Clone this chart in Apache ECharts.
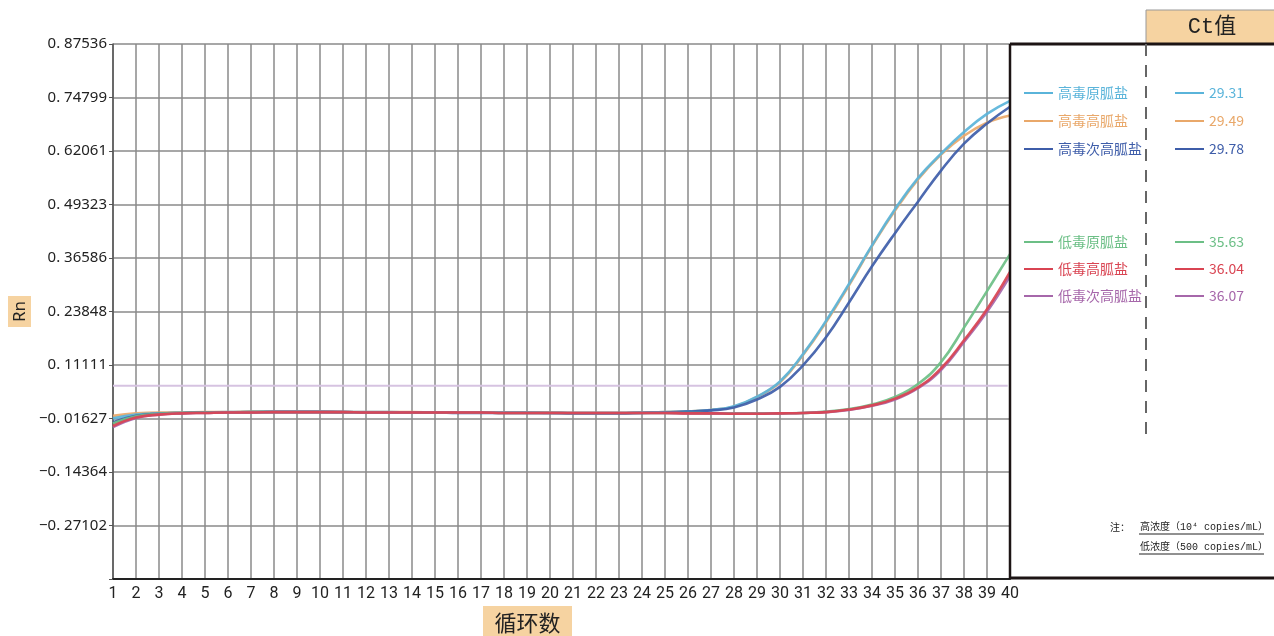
<!DOCTYPE html>
<html>
<head>
<meta charset="utf-8">
<script src="https://cdn.jsdelivr.net/npm/echarts@6/dist/echarts.min.js"></script>
<style>
html,body{margin:0;padding:0;background:#fff;}
#main{width:1274px;height:636px;}
</style>
</head>
<body>
<div id="main"></div>
<script>
// ---------------- data ----------------
var cycles = [1,2,3,4,5,6,7,8,9,10,11,12,13,14,15,16,17,18,19,20,21,22,23,24,25,26,27,28,29,30,31,32,33,34,35,36,37,38,39,40];

var seriesNames = ['高毒原胍盐','高毒高胍盐','高毒次高胍盐','低毒原胍盐','低毒高胍盐','低毒次高胍盐'];
var ctValues = ['29.31','29.49','29.78','35.63','36.04','36.07'];

var highOriginal = [-0.016,-0.007,-0.004,-0.003,-0.002,-0.001,-0.001,0.000,0.000,0.000,-0.001,-0.001,-0.001,-0.002,-0.002,-0.002,-0.002,-0.002,-0.002,-0.003,-0.003,-0.003,-0.003,-0.002,-0.001,0.001,0.004,0.013,0.036,0.072,0.137,0.216,0.304,0.396,0.482,0.556,0.614,0.666,0.709,0.740];
var highHigh = [-0.010,-0.004,-0.002,-0.002,-0.001,-0.001,0.000,0.000,0.000,0.000,-0.001,-0.001,-0.001,-0.001,-0.002,-0.002,-0.002,-0.002,-0.002,-0.002,-0.003,-0.003,-0.003,-0.002,-0.001,0.001,0.004,0.012,0.035,0.070,0.135,0.213,0.301,0.394,0.479,0.553,0.612,0.657,0.688,0.705];
var highSub = [-0.025,-0.010,-0.005,-0.003,-0.002,-0.002,-0.001,-0.001,-0.001,-0.001,-0.001,-0.002,-0.002,-0.002,-0.002,-0.003,-0.003,-0.003,-0.003,-0.003,-0.004,-0.004,-0.004,-0.003,-0.002,0.000,0.003,0.010,0.029,0.059,0.110,0.177,0.260,0.346,0.425,0.500,0.574,0.638,0.686,0.726];
var lowOriginal = [-0.028,-0.011,-0.005,-0.003,-0.002,-0.002,-0.001,-0.001,-0.001,-0.001,-0.001,-0.002,-0.002,-0.002,-0.002,-0.002,-0.002,-0.003,-0.003,-0.003,-0.003,-0.003,-0.003,-0.003,-0.003,-0.003,-0.004,-0.004,-0.004,-0.004,-0.003,0.000,0.006,0.017,0.035,0.066,0.118,0.200,0.287,0.375];
var lowHigh = [-0.034,-0.014,-0.007,-0.004,-0.003,-0.002,-0.002,-0.001,-0.001,-0.001,-0.001,-0.002,-0.002,-0.002,-0.002,-0.002,-0.002,-0.003,-0.003,-0.003,-0.003,-0.003,-0.003,-0.003,-0.003,-0.004,-0.004,-0.005,-0.005,-0.004,-0.003,-0.001,0.005,0.015,0.031,0.058,0.103,0.170,0.244,0.333];
var lowSub = [-0.037,-0.015,-0.007,-0.004,-0.003,-0.002,-0.002,-0.001,-0.001,-0.001,-0.001,-0.002,-0.002,-0.002,-0.002,-0.002,-0.002,-0.003,-0.003,-0.003,-0.003,-0.003,-0.003,-0.003,-0.003,-0.004,-0.004,-0.005,-0.005,-0.004,-0.003,-0.001,0.004,0.014,0.029,0.056,0.099,0.166,0.238,0.323];

var thresholdValue = 0.062;
var thresholdRange = [1, 39.9];

var yMin = -0.39839, yMax = 0.87536, yInterval = 0.127375;
var yTickLabels = ['', '\u22120. 27102', '\u22120. 14364', '\u22120. 01627', '0. 11111', '0. 23848', '0. 36586', '0. 49323', '0. 62061', '0. 74799', '0. 87536'];

var colors = ['#5AB4DA','#E9A86A','#3E5DA9','#6CBF86','#D94452','#A667AA'];
var thresholdColor = '#D6C3E1';

// ---------------- build ----------------
var allValues = [highOriginal, highHigh, highSub, lowOriginal, lowHigh, lowSub];
function pairs(vals){ return cycles.map(function(c,i){ return [c, vals[i]]; }); }

var drawOrder = [1,0,2,3,5,4];
var series = [{
  name: 'threshold', type: 'line', silent: true, showSymbol: false,
  data: [[thresholdRange[0], thresholdValue],[thresholdRange[1], thresholdValue]],
  lineStyle: {color: thresholdColor, width: 2}, z: 2
}];
drawOrder.forEach(function(i, k){
  series.push({
    name: seriesNames[i], type: 'line', smooth: 0.45, showSymbol: false,
    data: pairs(allValues[i]),
    itemStyle: {color: colors[i]},
    lineStyle: {color: colors[i], width: 2.6, opacity: 0.92},
    z: 3 + k
  });
});

function legendData(idxs){
  return idxs.map(function(i){ return {name: seriesNames[i], textStyle: {color: colors[i]}}; });
}
var legendCommon = {
  orient: 'vertical', icon: 'rect', itemWidth: 29, itemHeight: 2, padding: 0,
  selectedMode: false,
  textStyle: {fontSize: 14, lineHeight: 16, fontFamily: 'Noto Sans CJK SC'}
};
function mk(extra){ var o = {}; for (var k in legendCommon) o[k] = legendCommon[k]; for (var k2 in extra) o[k2] = extra[k2]; return o; }
function ctFormatter(name){ return ctValues[seriesNames.indexOf(name)]; }

var CJK = 'Noto Sans CJK SC';
var NOTE = 'Liberation Mono, Noto Sans CJK SC, monospace';
var boxColor = '#F6D3A1';

var option = {
  animation: false,
  backgroundColor: '#fff',
  grid: {left: 113, right: 264, top: 44, bottom: 57, containLabel: false},
  xAxis: {
    type: 'value', min: 1, max: 40, interval: 1,
    axisLine: {show: true, onZero: false, lineStyle: {color: '#222', width: 2}},
    axisTick: {show: false},
    axisLabel: {fontSize: 16, color: '#222', margin: 7, fontFamily: 'Liberation Sans Narrow, Roboto, sans-serif'},
    splitLine: {show: true, lineStyle: {color: '#8a8a8a', width: 1.5}}
  },
  yAxis: {
    type: 'value', min: yMin, max: yMax, interval: yInterval,
    axisLine: {show: true, onZero: false, lineStyle: {color: '#555', width: 1.5}},
    axisTick: {show: true, length: 4, lineStyle: {color: '#555'}},
    axisLabel: {fontSize: 15, color: '#222', margin: 6, fontFamily: 'Noto Sans',
      formatter: function(v){ var idx = Math.round((v - yMin) / yInterval); return yTickLabels[idx] || ''; }},
    splitLine: {show: true, lineStyle: {color: '#8a8a8a', width: 1.5}}
  },
  legend: [
    mk({left: 1024, top: 85, itemGap: 12, data: legendData([0,1,2])}),
    mk({left: 1024, top: 234, itemGap: 11, data: legendData([3,4,5])}),
    mk({left: 1175, top: 85, itemGap: 12, data: legendData([0,1,2]), formatter: ctFormatter}),
    mk({left: 1175, top: 234, itemGap: 11, data: legendData([3,4,5]), formatter: ctFormatter})
  ],
  series: series,
  graphic: [
    {type: 'rect', shape: {x: 1146, y: 10, width: 132, height: 34}, style: {fill: boxColor, stroke: '#999', lineWidth: 1}, z: 10},
    {type: 'text', x: 1212, y: 27, style: {text: 'Ct值', fontSize: 22, fontFamily: 'Liberation Mono, Noto Sans CJK SC', fill: '#222', textAlign: 'center', textVerticalAlign: 'middle'}, z: 11},
    {type: 'line', shape: {x1: 1010, y1: 44, x2: 1274, y2: 44}, style: {stroke: '#1c1414', lineWidth: 3}, z: 12},
    {type: 'line', shape: {x1: 1010, y1: 44, x2: 1010, y2: 579}, style: {stroke: '#1c1414', lineWidth: 2.5}, z: 12},
    {type: 'line', shape: {x1: 1010, y1: 578, x2: 1274, y2: 578}, style: {stroke: '#1c1414', lineWidth: 3}, z: 12},
    {type: 'line', shape: {x1: 1146, y1: 44, x2: 1146, y2: 440}, style: {stroke: '#666', lineWidth: 2, lineDash: [12, 9]}, z: 12},
    {type: 'rect', shape: {x: 8, y: 296, width: 23, height: 31}, style: {fill: boxColor}, z: 10},
    {type: 'text', x: 20, y: 311.5, rotation: Math.PI / 2, style: {text: 'Rn', fontSize: 17, fontFamily: 'Noto Sans', fill: '#222', textAlign: 'center', textVerticalAlign: 'middle'}, z: 11},
    {type: 'rect', shape: {x: 483, y: 606, width: 89, height: 32}, style: {fill: boxColor}, z: 10},
    {type: 'text', x: 527.5, y: 623, style: {text: '循环数', fontSize: 22, fontFamily: CJK, fill: '#222', textAlign: 'center', textVerticalAlign: 'middle'}, z: 11},
    {type: 'text', x: 1110, y: 527, style: {text: '注：', fontSize: 10, fontFamily: CJK, fill: '#222', textVerticalAlign: 'middle'}, z: 11},
    {type: 'text', x: 1140, y: 527, style: {text: '高浓度（10⁴ copies/mL）', fontSize: 10, fontFamily: NOTE, fill: '#222', textVerticalAlign: 'middle'}, z: 11},
    {type: 'line', shape: {x1: 1139, y1: 534, x2: 1264, y2: 534}, style: {stroke: '#222', lineWidth: 1}, z: 11},
    {type: 'text', x: 1140, y: 547, style: {text: '低浓度（500 copies/mL）', fontSize: 10, fontFamily: NOTE, fill: '#222', textVerticalAlign: 'middle'}, z: 11},
    {type: 'line', shape: {x1: 1139, y1: 554, x2: 1264, y2: 554}, style: {stroke: '#222', lineWidth: 1}, z: 11}
  ]
};

var chart = echarts.init(document.getElementById('main'));
chart.setOption(option);
</script>
</body>
</html>
